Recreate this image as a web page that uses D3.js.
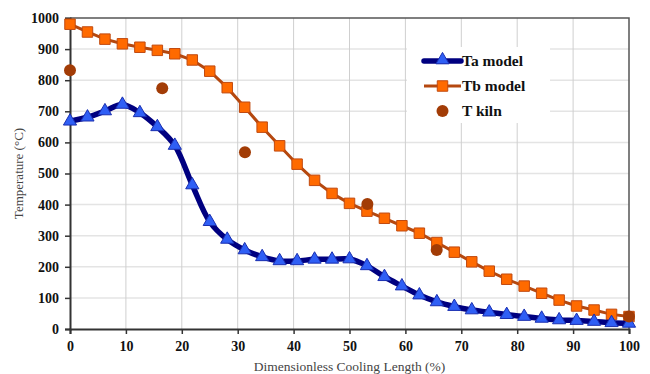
<!DOCTYPE html>
<html>
<head>
	<meta charset="UTF-8">
	<title>Temperature vs cooling length</title>
	<script src="https://cdn.jsdelivr.net/npm/d3@7"></script>
	<style>
		html, body {
			margin: 0;
			padding: 0;
			background: #fff;
		}
		#chart text {
			font-family: "Liberation Serif";
		}
	</style>
</head>
<body>
	<svg id="chart" width="650" height="374"></svg>
	<script>
		// cooling length positions (%), 33 nodes
		var lengthPct = d3.range(33).map(function(i) { return i * 100 / 32; });

		var taModel = [668, 681, 701, 722, 695, 650, 590, 463, 345, 288, 254, 232, 219, 219, 224, 224, 225,
			203, 168, 138, 109, 87, 72, 61, 54, 46, 40, 34, 29, 27, 24, 20, 18];

		var tbModel = [980, 955, 932, 917, 906, 896, 885, 865, 829, 776, 713, 649, 589, 530, 478, 436, 404,
			379, 356, 332, 308, 278, 247, 216, 186, 160, 138, 115, 93, 74, 61, 47, 40];

		var kilnX = [0, 16.5, 31.3, 53.2, 65.6, 100];
		var kilnT = [832, 774, 568, 402, 254, 40];

		var xTicks = [0, 10, 20, 30, 40, 50, 60, 70, 80, 90, 100];
		var yTicks = [0, 100, 200, 300, 400, 500, 600, 700, 800, 900, 1000];

		var margin = { left: 70, right: 21, top: 18, bottom: 45 };
		var width = 650, height = 374;

		var svg = d3.select("#chart");

		var x = d3.scaleLinear().domain([0, 100]).range([margin.left, width - margin.right]);
		var y = d3.scaleLinear().domain([0, 1000]).range([height - margin.bottom, margin.top]);

		// grid
		var grid = svg.append("g");
		grid.selectAll("line.h").data(yTicks.slice(1, -1)).enter().append("line")
			.attr("x1", x(0)).attr("x2", x(100))
			.attr("y1", function(d) { return y(d); })
			.attr("y2", function(d) { return y(d); })
			.attr("stroke", "#e4e4e4").attr("stroke-width", 1.5);
		grid.selectAll("line.v").data(xTicks.slice(1, -1)).enter().append("line")
			.attr("y1", y(0)).attr("y2", y(1000))
			.attr("x1", function(d) { return x(d); })
			.attr("x2", function(d) { return x(d); })
			.attr("stroke", "#cfcfcf").attr("stroke-width", 1);

		// frame (top / right)
		svg.append("path")
			.attr("d", "M" + x(0) + "," + y(1000) + "H" + x(100) + "V" + y(0))
			.attr("fill", "none").attr("stroke", "#555").attr("stroke-width", 1.5);

		// axes
		var yAxis = svg.append("g")
			.attr("transform", "translate(" + x(0) + ",0)")
			.call(d3.axisLeft(y).tickValues(yTicks).tickFormat(d3.format("d")).tickSize(5).tickPadding(6));
		var xAxis = svg.append("g")
			.attr("transform", "translate(0," + y(0) + ")")
			.call(d3.axisBottom(x).tickValues(xTicks).tickFormat(d3.format("d")).tickSize(5).tickPadding(7));

		[yAxis, xAxis].forEach(function(ax) {
			ax.attr("font-size", 14).attr("font-weight", "bold");
			ax.select(".domain").attr("stroke", "#333").attr("stroke-width", 2);
			ax.selectAll(".tick line").attr("stroke", "#333").attr("stroke-width", 1.5);
			ax.selectAll("text").attr("fill", "#111");
		});

		// axis titles
		svg.append("text")
			.attr("x", (x(0) + x(100)) / 2)
			.attr("y", 371)
			.attr("text-anchor", "middle")
			.attr("fill", "#444")
			.attr("font-size", 13.5)
			.text("Dimensionless Cooling Length (%)");

		svg.append("text")
			.attr("transform", "translate(23," + ((y(0) + y(1000)) / 2) + ") rotate(-90)")
			.attr("text-anchor", "middle")
			.attr("fill", "#444")
			.attr("font-size", 13)
			.text("Temperature (°C)");

		// legend background
		svg.append("rect")
			.attr("x", 407).attr("y", 47)
			.attr("width", 143).attr("height", 76)
			.attr("fill", "#fff");

		// series
		var taPts = lengthPct.map(function(d, i) { return [d, taModel[i]]; });
		var tbPts = lengthPct.map(function(d, i) { return [d, tbModel[i]]; });

		var lineGen = d3.line()
			.x(function(d) { return x(d[0]); })
			.y(function(d) { return y(d[1]); });

		var triangle = d3.symbol().type(d3.symbolTriangle).size(75);
		var square = d3.symbol().type(d3.symbolSquare).size(110);

		svg.append("path")
			.attr("d", lineGen.curve(d3.curveLinear)(tbPts))
			.attr("fill", "none").attr("stroke", "#b5480f").attr("stroke-width", 3);

		svg.append("g").selectAll("path").data(tbPts).enter().append("path")
			.attr("d", square)
			.attr("transform", function(d) { return "translate(" + x(d[0]) + "," + y(d[1]) + ")"; })
			.attr("fill", "#ff6a00").attr("stroke", "#c04a10").attr("stroke-width", 1);

		svg.append("path")
			.attr("d", lineGen.curve(d3.curveCatmullRom)(taPts))
			.attr("fill", "none").attr("stroke", "#000080").attr("stroke-width", 5.5)
			.attr("stroke-linejoin", "round");

		svg.append("g").selectAll("path").data(taPts).enter().append("path")
			.attr("d", triangle)
			.attr("transform", function(d) { return "translate(" + x(d[0]) + "," + y(d[1]) + ")"; })
			.attr("fill", "#2f5ff5").attr("stroke", "#1a2fb0").attr("stroke-width", 1);

		svg.append("g").selectAll("circle").data(kilnX).enter().append("circle")
			.attr("cx", function(d) { return x(d); })
			.attr("cy", function(d, i) { return y(kilnT[i]); })
			.attr("r", 6)
			.attr("fill", "#a23c06");

		// legend
		var legend = svg.append("g").attr("transform", "translate(424,0)");
		var rows = [
			{ label: "Ta model", y: 61 },
			{ label: "Tb model", y: 86 },
			{ label: "T kiln", y: 111 }
		];
		legend.append("line").attr("x1", 0).attr("x2", 37).attr("y1", 61).attr("y2", 61)
			.attr("stroke", "#000080").attr("stroke-width", 5.5).attr("stroke-linecap", "round");
		legend.append("path").attr("d", triangle).attr("transform", "translate(18.5,60)")
			.attr("fill", "#2f5ff5").attr("stroke", "#1a2fb0");
		legend.append("line").attr("x1", 0).attr("x2", 37).attr("y1", 86).attr("y2", 86)
			.attr("stroke", "#b5480f").attr("stroke-width", 3);
		legend.append("path").attr("d", square).attr("transform", "translate(18.5,86)")
			.attr("fill", "#ff6a00").attr("stroke", "#c04a10");
		legend.append("circle").attr("cx", 18.5).attr("cy", 111).attr("r", 6).attr("fill", "#a23c06");

		legend.selectAll("text").data(rows).enter().append("text")
			.attr("x", 38)
			.attr("y", function(d) { return d.y + 5; })
			.attr("fill", "#111")
			.attr("font-size", 15.5)
			.attr("font-weight", "bold")
			.text(function(d) { return d.label; });
	</script>
</body>
</html>
